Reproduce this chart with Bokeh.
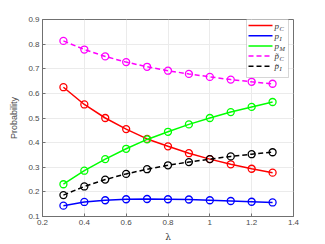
from bokeh.plotting import figure
from bokeh.models import FixedTicker, Range1d, Label, Arrow, BoxAnnotation
from bokeh.embed import file_html
from bokeh.resources import INLINE

lam = [0.3, 0.4, 0.5, 0.6, 0.7, 0.8, 0.9, 1.0, 1.1, 1.2, 1.3]
p_C = [0.625, 0.555, 0.500, 0.455, 0.415, 0.385, 0.357, 0.333, 0.312, 0.294, 0.278]
p_I = [0.144, 0.159, 0.166, 0.170, 0.171, 0.170, 0.169, 0.166, 0.163, 0.160, 0.157]
p_M = [0.231, 0.286, 0.333, 0.375, 0.413, 0.444, 0.474, 0.500, 0.524, 0.545, 0.565]
pt_C = [0.813, 0.778, 0.750, 0.727, 0.708, 0.692, 0.679, 0.667, 0.656, 0.647, 0.639]
pt_I = [0.187, 0.222, 0.250, 0.273, 0.292, 0.308, 0.321, 0.333, 0.344, 0.353, 0.361]

x_ticks = [0.2, 0.4, 0.6, 0.8, 1.0, 1.2, 1.4]
x_tick_labels = ["0.2", "0.4", "0.6", "0.8", "1", "1.2", "1.4"]
y_ticks = [0.1, 0.2, 0.3, 0.4, 0.5, 0.6, 0.7, 0.8, 0.9]
y_tick_labels = ["0.1", "0.2", "0.3", "0.4", "0.5", "0.6", "0.7", "0.8", "0.9"]

legend_base = ["p", "p", "p", "p\u0303", "p\u0303"]
legend_sub = ["C", "I", "M", "C", "I"]
colors = ["#ff0000", "#0000ff", "#00ff00", "#ff00ff", "#000000"]
dashes = ["solid", "solid", "solid", "5 3", "5 3"]
series = [p_C, p_I, p_M, pt_C, pt_I]

p = figure(width=325, height=244, output_backend="svg", toolbar_location=None,
           x_range=Range1d(0.2, 1.4), y_range=Range1d(0.1, 0.9),
           min_border_left=42, min_border_right=32, min_border_top=19, min_border_bottom=26)

axis_color = "#707070"
label_color = "#4a4a4a"

for ax, ticks, labels in ((p.xaxis[0], x_ticks, x_tick_labels), (p.yaxis[0], y_ticks, y_tick_labels)):
    ax.ticker = FixedTicker(ticks=ticks)
    ax.major_label_overrides = {t: l for t, l in zip(ticks, labels)}
    ax.major_tick_in = 3
    ax.major_tick_out = 0
    ax.minor_tick_line_color = None
    ax.axis_line_color = axis_color
    ax.major_tick_line_color = axis_color
    ax.major_label_text_font = "Liberation Sans"
    ax.major_label_text_font_size = "8px"
    ax.major_label_text_color = label_color
    ax.major_label_standoff = 3

p.xaxis[0].axis_label = "\u03bb"
p.xaxis[0].axis_label_text_font = "DejaVu Serif"
p.xaxis[0].axis_label_text_font_style = "normal"
p.xaxis[0].axis_label_text_font_size = "9px"
p.xaxis[0].axis_label_text_color = "#333333"
p.xaxis[0].axis_label_standoff = 4

p.yaxis[0].axis_label = "Probability"
p.yaxis[0].axis_label_text_font = "Liberation Sans"
p.yaxis[0].axis_label_text_font_style = "normal"
p.yaxis[0].axis_label_text_font_size = "9px"
p.yaxis[0].axis_label_text_color = label_color
p.yaxis[0].axis_label_standoff = 6

p.xgrid.grid_line_color = "#ebebeb"
p.ygrid.grid_line_color = "#ebebeb"
p.outline_line_color = axis_color
p.background_fill_color = "white"

for ys, color, dash in zip(series, colors, dashes):
    p.line(lam, ys, line_color=color, line_width=1.5, line_dash=dash)
    p.scatter(lam, ys, marker="circle", size=7, fill_color=None, line_color=color, line_width=1.3)

# hand-built legend box (screen units, relative to the frame's bottom-left corner)
p.add_layout(BoxAnnotation(left=204, right=246, top=200, bottom=139,
                           left_units="screen", right_units="screen",
                           top_units="screen", bottom_units="screen",
                           fill_color="white", fill_alpha=1.0,
                           line_color="#555555", line_width=0.8, level="overlay"))
for i in range(len(legend_sub)):
    yrow = 191 - i * 10.2
    p.add_layout(Arrow(x_start=206, y_start=yrow, x_end=230, y_end=yrow,
                       start_units="screen", end_units="screen", start=None, end=None,
                       line_color=colors[i], line_width=1.5, line_dash=dashes[i], level="overlay"))
    p.add_layout(Label(x=232, y=yrow, x_units="screen", y_units="screen", text=legend_base[i],
                       text_font="Liberation Serif", text_font_style="italic",
                       text_font_size="9px", text_color="#333333", level="overlay",
                       text_baseline="middle", text_align="left"))
    p.add_layout(Label(x=237, y=yrow - 2.5, x_units="screen", y_units="screen", text=legend_sub[i],
                       text_font="Liberation Serif", text_font_style="italic",
                       text_font_size="6.5px", text_color="#333333", level="overlay",
                       text_baseline="middle", text_align="left"))

open("out.html", "w").write(file_html(p, INLINE))
